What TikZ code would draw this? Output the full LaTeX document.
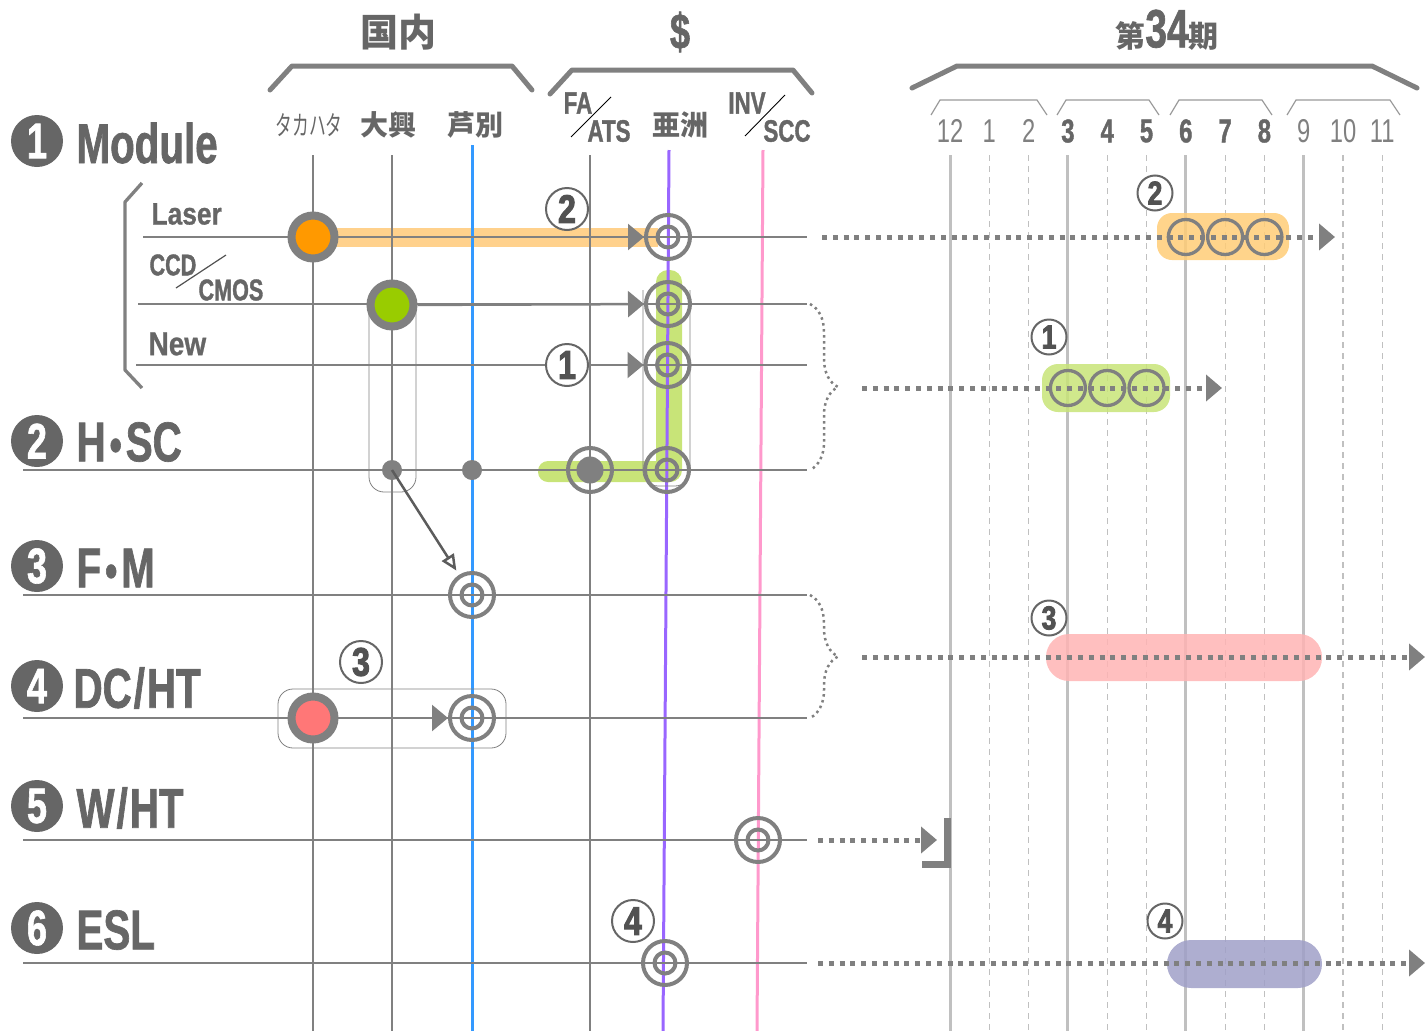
\documentclass[tikz,border=0pt]{standalone}
\usepackage{fontspec}
\setmainfont{Liberation Sans}
\newfontfamily\condfont[FakeStretch=0.72, BoldFont={Liberation Sans Bold}, BoldFeatures={FakeBold=1.2}]{Liberation Sans}
\newfontfamily\subfont[FakeStretch=0.85, BoldFont={Liberation Sans Bold}, BoldFeatures={FakeBold=0.8}]{Liberation Sans}
\newfontfamily\tagfont[FakeStretch=0.8, BoldFont={Liberation Sans Bold}, BoldFeatures={FakeBold=2.5}]{Liberation Sans}
\newfontfamily\jpfont{Noto Sans CJK JP}
\newfontfamily\jpnarrow[FakeStretch=0.62]{Noto Sans CJK JP}
\usetikzlibrary{arrows.meta,decorations.pathreplacing}
\definecolor{linegray}{RGB}{128,128,128}
\definecolor{textgray}{RGB}{102,102,102}
\definecolor{gridgray}{RGB}{192,192,192}
\definecolor{laserorange}{RGB}{255,153,0}
\definecolor{cmosgreen}{RGB}{153,204,0}
\definecolor{dcred}{RGB}{255,119,119}
\definecolor{ashiblue}{RGB}{51,153,255}
\definecolor{asiapurple}{RGB}{153,102,255}
\definecolor{invpink}{RGB}{255,153,204}
\definecolor{bandorange}{RGB}{255,204,119}
\definecolor{bandgreen}{RGB}{200,228,120}
\definecolor{bandpink}{RGB}{255,180,180}
\definecolor{bandpurple}{RGB}{160,160,200}

\begin{document}
\begin{tikzpicture}[x=1pt, y=-1pt,
    rowline/.style={linegray, line width=2.5pt},
    colline/.style={linegray, line width=2.5pt},
    thinbox/.style={linegray, line width=0.8pt, rounded corners=15pt},
    bigbracket/.style={linegray, line width=5pt, line cap=round, line join=round},
    quarterbracket/.style={linegray!80, line width=1.2pt},
    gridsolid/.style={gridgray, line width=3pt},
    griddash/.style={gridgray, line width=1.2pt, dash pattern=on 6pt off 5pt},
    target/.style={circle, draw=linegray, line width=4pt, minimum size=44pt, inner sep=0pt,
      path picture={\draw[linegray, line width=4pt] (path picture bounding box.center) circle (10.5pt);}},
    hubtarget/.style={circle, draw=linegray, line width=4pt, minimum size=44pt, inner sep=0pt,
      path picture={\fill[linegray] (path picture bounding box.center) circle (13.5pt);}},
    site/.style={circle, draw=linegray, line width=8pt, minimum size=43pt, inner sep=0pt},
    hub/.style={circle, fill=linegray, minimum size=20pt, inner sep=0pt},
    flow/.style={linegray, line width=2.5pt, -{Triangle[length=16pt, width=26pt]}},
    openflow/.style={textgray!90!black, line width=2.5pt, -{Triangle[open, length=16pt, width=14pt, line width=2.5pt]}, shorten >=5pt},
    dotline/.style={linegray, line width=5pt, dash pattern=on 5pt off 5.8pt, -{Triangle[length=16pt, width=26pt]}},
    dotbrace/.style={linegray, line width=2.5pt, dash pattern=on 2.5pt off 3.5pt, decorate, decoration={brace, amplitude=28pt}},
    monthring/.style={circle, draw=linegray, line width=3.3pt, minimum size=35pt, inner sep=0pt},
    rowname/.style={anchor=west, text=textgray, font=\condfont\bfseries\fontsize{56}{56}\selectfont},
    numdisk/.style={circle, fill=textgray, minimum size=52pt, inner sep=0pt, text=white, font=\condfont\bfseries\fontsize{50}{50}\selectfont},
    subname/.style={anchor=west, text=textgray, font=\subfont\bfseries\fontsize{31}{31}\selectfont},
    colname/.style={text=textgray, font=\jpfont\bfseries\fontsize{28}{28}\selectfont},
    latinname/.style={text=textgray, font=\condfont\bfseries\fontsize{31}{31}\selectfont},
    monthlabel/.style={text=linegray, font=\condfont\fontsize{33}{33}\selectfont},
    monthbold/.style={text=textgray, font=\condfont\bfseries\fontsize{33}{33}\selectfont},
    tag/.style={circle, draw=textgray, line width=2pt, fill=white, minimum size=42pt, inner sep=0pt, text=textgray!80!black, font=\tagfont\bfseries\fontsize{40}{40}\selectfont},
    smalltag/.style={tag, minimum size=35pt, font=\tagfont\bfseries\fontsize{33}{33}\selectfont}]

\useasboundingbox (0,0) rectangle (1425,1031);

% headers
\node[text=textgray, font=\jpfont\bfseries\fontsize{38}{38}\selectfont] (domestic) at (398,32) {国内};
\node[text=textgray, font=\condfont\bfseries\fontsize{50}{50}\selectfont] (dollar) at (680,32) {\$};
\node[text=textgray] (term) at (1167,30) {{\jpfont\bfseries\fontsize{30}{30}\selectfont 第}{\condfont\bfseries\fontsize{54}{54}\selectfont 34}{\jpfont\bfseries\fontsize{30}{30}\selectfont 期}};
\draw[bigbracket] (270,90) -- (292,66) -- (512,66) -- (532,90);
\draw[bigbracket] (550,94) -- (572,70) -- (793,70) -- (812,93);
\draw[bigbracket] (912,88) -- (957,66) -- (1372,66) -- (1417,88);

% column names
\node[text=textgray, font=\jpnarrow\fontsize{27}{27}\selectfont] (takahata) at (309,125) {タカハタ};
\node[colname] (daiko) at (388,125) {大興};
\node[colname] (ashibetsu) at (475,125) {芦別};
\node[colname] (asia) at (680,125) {亜洲};
\node[latinname] (faL) at (578,103) {FA};
\node[latinname] (atsL) at (609,131) {ATS};
\draw[black, line width=0.9pt] (571,137) -- (611,97);
\node[latinname] (invL) at (747,103) {INV};
\node[latinname] (sccL) at (787,131) {SCC};
\draw[black, line width=0.9pt] (745,136) -- (785,95);

% months
\foreach \a/\b in {931/1047,1057/1159,1170/1272,1287/1400}
  \draw[quarterbracket] (\a,115) -- (\a+9,100) -- (\b-10,100) -- (\b,115);
\foreach \i in {0,3,6,9}
  \draw[gridsolid] ({950+39.3*\i},155) -- ({950+39.3*\i},1031);
\foreach \i in {1,2,4,5,7,8,10,11}
  \draw[griddash] ({950+39.3*\i},155) -- ({950+39.3*\i},1031);
\foreach \i/\m in {0/12,1/1,2/2,9/9,10/10,11/11}
  \node[monthlabel] (month\m) at ({950+39.3*\i},131) {\m};
\foreach \i/\m in {3/3,4/4,5/5,6/6,7/7,8/8}
  \node[monthbold] (month\m) at ({950+39.3*\i},131) {\m};

% highlight bands
\fill[laserorange!45] (336,228) rectangle (658,247);
\fill[bandgreen, rounded corners=12pt] (656,270) rectangle (682,482);
\fill[bandgreen, rounded corners=10pt] (538,461) rectangle (676,482);
\fill[bandorange, fill opacity=0.85, rounded corners=15pt] (1157,213) rectangle (1289,260);
\fill[bandgreen, fill opacity=0.85, rounded corners=16pt] (1042,364) rectangle (1170,412);
\fill[bandpink, fill opacity=0.85, rounded corners=23pt] (1046,634) rectangle (1322,681);
\fill[bandpurple, fill opacity=0.85, rounded corners=24pt] (1167,940) rectangle (1322,988);

% columns
\draw[colline] (313,155) -- (313,1031);
\draw[colline] (392,155) -- (392,1031);
\draw[ashiblue, line width=3pt] (472,145) -- (472,1031);
\draw[colline] (590,155) -- (590,1031);
\draw[asiapurple, line width=3pt] (669,150) -- (663,1031);
\draw[invpink, line width=3pt] (763,150) -- (757,1031);
\draw[thinbox] (369,310) -- (369,492) -- (416,492) -- (416,310);
\draw[thinbox] (643,290) -- (643,486) -- (690,486) -- (690,290);
\draw[thinbox] (278,689) rectangle (506,748);

% rows
\draw[linegray, line width=3.3pt, line join=round] (142,183) -- (125,202) -- (125,370) -- (142,388);
\draw[rowline] (143,237) -- (807,237);
\draw[rowline] (138,304) -- (807,304);
\draw[rowline] (136,365) -- (807,365);
\foreach \y in {470,595,718,840,963}
  \draw[rowline] (23,\y) -- (807,\y);

% row names
\node[numdisk] (d1) at (37,141) {1};
\node[rowname] (module) at (73,143) {Module};
\node[numdisk] (d2) at (37,441) {2};
\node[rowname] (hsc) at (73,442) {H\kern4pt{\fontsize{48}{48}\selectfont•}\kern4pt SC};
\node[numdisk] (d3) at (37,566) {3};
\node[rowname] (fm) at (73,568) {F\kern4pt{\fontsize{48}{48}\selectfont•}\kern4pt M};
\node[numdisk] (d4) at (37,686) {4};
\node[rowname] (dcht) at (70,688) {DC\kern2pt/\kern2pt HT};
\node[numdisk] (d5) at (37,806) {5};
\node[rowname] (wht) at (73,808) {W\kern2pt/\kern2pt HT};
\node[numdisk] (d6) at (37,928) {6};
\node[rowname] (esl) at (73,930) {ESL};
\node[subname] (laser) at (148,214) {Laser};
\node[subname, font=\condfont\bfseries\fontsize{30}{30}\selectfont] (ccd) at (146,265) {CCD};
\node[subname, font=\condfont\bfseries\fontsize{30}{30}\selectfont] (cmos) at (195,290) {CMOS};
\draw[textgray!80!black, line width=1.2pt] (176,288) -- (226,255);
\node[subname, font=\subfont\bfseries\fontsize{33}{33}\selectfont] (new) at (145,344) {New};

% sites and targets
\node[site, fill=laserorange] (laserSrc) at (313,237) {};
\node[site, fill=cmosgreen] (cmosSrc) at (392,305) {};
\node[site, fill=dcred] (dcSrc) at (313,718) {};
\node[hub] (hscHub1) at (392,470) {};
\node[hub] (hscHub2) at (472,470) {};
\node[hubtarget] (hscFa) at (590,470) {};
\node[target] (laserAsia) at (668,237) {};
\node[target] (cmosAsia) at (668,304) {};
\node[target] (newAsia) at (667.5,365) {};
\node[target] (hscAsia) at (667,470) {};
\node[target] (fmAshi) at (472,595) {};
\node[target] (dcAshi) at (472,718) {};
\node[target] (whtInv) at (758,840) {};
\node[target] (eslAsia) at (665,963) {};
\node[tag] (tag2) at (567,209) {2};
\node[tag] (tag1) at (567,365) {1};
\node[tag] (tag3) at (361,662) {3};
\node[tag] (tag4) at (633,921) {4};

% flows
\draw[flow] (laserSrc) -- (laserAsia);
\draw[flow] (cmosSrc) -- (cmosAsia);
\draw[flow] (tag1) -- (newAsia);
\draw[flow] (dcSrc) -- (dcAshi);
\draw[openflow] (hscHub1.center) -- (fmAshi);

% schedule
\coordinate (laserR) at (822,237);
\coordinate (cmosR) at (862,388);
\coordinate (fmR) at (862,657);
\coordinate (whtR) at (818,840);
\coordinate (eslR) at (818,963);
\coordinate (laserEnd) at (1335,237);
\coordinate (cmosEnd) at (1222,388);
\coordinate (fmEnd) at (1425,657);
\coordinate (whtEnd) at (937,840);
\coordinate (eslEnd) at (1425,963);
\draw[dotbrace] (810,304) -- (810,470);
\draw[dotbrace] (810,595) -- (810,718);
\draw[dotline] (laserR) -- (laserEnd);
\draw[dotline] (cmosR) -- (cmosEnd);
\draw[dotline] (fmR) -- (fmEnd);
\draw[dotline] (whtR) -- (whtEnd);
\draw[dotline] (eslR) -- (eslEnd);
\draw[linegray, line width=7pt] (922,864.5) -- (947,864.5) -- (947,818);
\foreach \i in {6,7,8}
  \node[monthring] (laserM\i) at ({950+39.3*\i},237) {};
\foreach \i in {3,4,5}
  \node[monthring] (cmosM\i) at ({950+39.3*\i},388) {};
\node[smalltag] (ptag2) at (1155,193) {2};
\node[smalltag] (ptag1) at (1049,337) {1};
\node[smalltag] (ptag3) at (1049,618) {3};
\node[smalltag] (ptag4) at (1165,921) {4};
\end{tikzpicture}
\end{document}
